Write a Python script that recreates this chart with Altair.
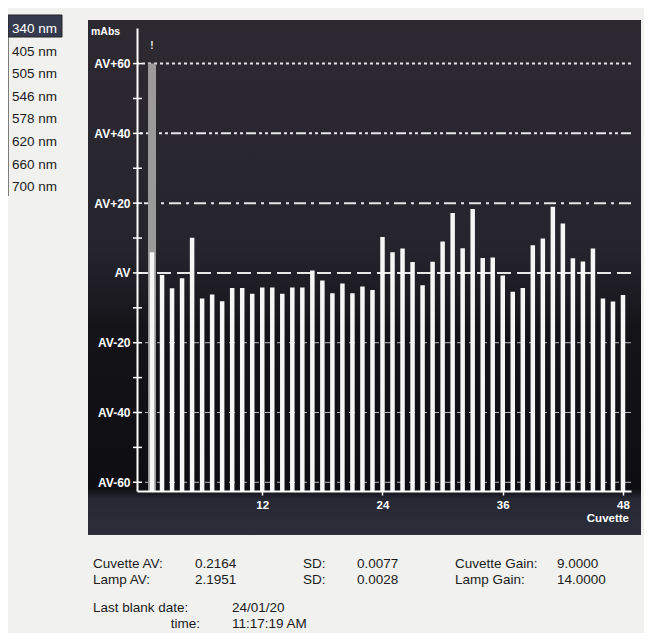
import altair as alt
import pandas as pd

# ---------------- data ----------------
wavelengths = ["340 nm", "405 nm", "505 nm", "546 nm", "578 nm", "620 nm", "660 nm", "700 nm"]
selected_wavelength = "340 nm"

cuvettes = list(range(1, 49))
values = [5.9, -0.6, -4.4, -1.5, 10.1, -7.3, -6.2, -8.1, -4.3, -4.3, -6.0, -4.2,
          -4.2, -6.0, -4.2, -4.2, 0.7, -2.2, -5.8, -3.0, -5.8, -3.9, -4.9, 10.3,
          5.9, 7.0, 3.1, -3.5, 3.2, 9.0, 17.2, 7.1, 18.3, 4.3, 4.4, -0.7,
          -5.4, -4.3, 7.9, 9.9, 19.0, 14.2, 4.2, 3.3, 7.0, -7.3, -8.2, -6.3]
selected_cuvette = [1]
selected_top = [60]
marker_level = [65]

y_major = [-60, -40, -20, 0, 20, 40, 60]
y_minor = [-50, -30, -10, 10, 30, 50]
x_ticks = [12, 24, 36, 48]

y_unit = "mAbs"
x_title = "Cuvette"

stat_labels_left = ["Cuvette AV:", "Lamp AV:"]
stat_values_left = ["0.2164", "2.1951"]
sd_labels = ["SD:", "SD:"]
sd_values = ["0.0077", "0.0028"]
gain_labels = ["Cuvette Gain:", "Lamp Gain:"]
gain_values = ["9.0000", "14.0000"]
blank_labels = ["Last blank date:", "time:"]
blank_values = ["24/01/20", "11:17:19 AM"]

# ---------------- layout ----------------
W, H = 494, 463
Y_MIN, Y_MAX = -62.5, 70.2
X_MIN, X_MAX = 0, 48.3
FONT = "Liberation Sans"

xscale = alt.Scale(domain=[X_MIN, X_MAX], nice=False, zero=False)
yscale = alt.Scale(domain=[Y_MIN, Y_MAX], nice=False, zero=False)

dummy = pd.DataFrame({"d": [0]})
layers = []

# dark instrument panel
panel_fill = alt.Gradient(
    gradient="linear", x1=0, x2=0, y1=0, y2=1,
    stops=[
        alt.GradientStop(color="#2d2931", offset=0),
        alt.GradientStop(color="#25242d", offset=0.45),
        alt.GradientStop(color="#141418", offset=0.6),
        alt.GradientStop(color="#0e0e12", offset=0.91),
        alt.GradientStop(color="#262833", offset=0.93),
        alt.GradientStop(color="#2b2e3a", offset=1),
    ],
)
layers.append(alt.Chart(dummy).mark_rect(fill=panel_fill).encode(
    x=alt.value(-49), x2=alt.value(504), y=alt.value(-8), y2=alt.value(507)))

# bars (carry the axes)
df = pd.DataFrame({"cuvette": cuvettes, "value": values, "base": [Y_MIN] * len(cuvettes)})
label_expr = ("datum.value == 0 ? 'AV' : (datum.value > 0 ? 'AV+' + datum.value : 'AV' + datum.value)")
xaxis = alt.Axis(values=x_ticks, ticks=True, tickSize=4, tickWidth=1.5, tickColor="white",
                 labelColor="white", labelFont=FONT, labelFontSize=11.5, labelFontWeight="bold",
                 labelPadding=4, domainColor="white", domainWidth=2, grid=False,
                 labelFlush=False, zindex=2, title=None)
yaxis = alt.Axis(values=y_major, labelExpr=label_expr, ticks=False, labelPadding=7,
                 labelColor="white", labelFont=FONT, labelFontSize=12, labelFontWeight="bold",
                 domainColor="white", domainWidth=2, grid=False, zindex=2, title=None)

# grid / reference lines
def grid(levels, **kw):
    return alt.Chart(pd.DataFrame({"level": levels})).mark_rule(**kw).encode(
        y=alt.Y("level:Q", scale=yscale, axis=yaxis))

layers.append(grid(y_major[:3], color="#b9b9b9", strokeWidth=1, strokeDash=[6, 6]))
layers.append(grid([y_major[3]], color="#e6e6e6", strokeWidth=2, strokeDash=[14, 6]))
layers.append(grid([y_major[4]], color="#e6e6e6", strokeWidth=2, strokeDash=[12, 5, 3, 5]))
layers.append(grid([y_major[5]], color="#e6e6e6", strokeWidth=2, strokeDash=[10, 3, 3, 3, 3, 3]))
layers.append(grid([y_major[6]], color="#e6e6e6", strokeWidth=2, strokeDash=[3, 3]))

# selected cuvette highlight
sel_df = pd.DataFrame({"cuvette": selected_cuvette, "top": selected_top, "base": [Y_MIN],
                       "mark": marker_level})
layers.append(alt.Chart(sel_df).mark_bar(size=8, color="#9a9a9a").encode(
    x=alt.X("cuvette:Q", scale=xscale, axis=xaxis),
    y=alt.Y("top:Q", scale=yscale, axis=yaxis), y2="base:Q"))
layers.append(alt.Chart(sel_df).mark_text(
    text="!", font=FONT, fontSize=10, fontWeight="bold", color="#e8e8e8", baseline="middle"
).encode(x=alt.X("cuvette:Q", scale=xscale, axis=xaxis), y=alt.Y("mark:Q", scale=yscale, axis=yaxis)))

layers.append(alt.Chart(df).mark_bar(size=4.5, color="#f6f6f6").encode(
    x=alt.X("cuvette:Q", scale=xscale, axis=xaxis),
    y=alt.Y("value:Q", scale=yscale, axis=yaxis),
    y2="base:Q",
))

# y-axis tick marks crossing the axis
layers.append(alt.Chart(pd.DataFrame({"t": y_major + y_minor})).mark_rule(color="white", strokeWidth=1.5).encode(
    y=alt.Y("t:Q", scale=yscale, axis=yaxis), x=alt.value(-4), x2=alt.value(5)))

# wavelength list box
layers.append(alt.Chart(dummy).mark_rule(color="#555", strokeWidth=1.5).encode(
    x=alt.value(-129), y=alt.value(-13), y2=alt.value(168)))
layers.append(alt.Chart(dummy).mark_rect(fill="#363a4e", stroke="#222", strokeWidth=1).encode(
    x=alt.value(-129), x2=alt.value(-75), y=alt.value(-13), y2=alt.value(9)))
for i, w in enumerate(wavelengths):
    col = "#ffffff" if w == selected_wavelength else "#1b1b1b"
    layers.append(alt.Chart(dummy).mark_text(
        align="left", baseline="alphabetic", font=FONT, fontSize=13.5, color=col
    ).encode(text=alt.value(w), x=alt.value(-125), y=alt.value(5 + i * 22.6)))

# axis captions
layers.append(alt.Chart(dummy).mark_text(align="left", baseline="alphabetic", font=FONT, fontSize=10.5,
                                         fontWeight="bold", color="white").encode(
    text=alt.value(y_unit), x=alt.value(-46), y=alt.value(7)))
layers.append(alt.Chart(dummy).mark_text(align="right", baseline="middle", font=FONT, fontSize=11.5,
                                         fontWeight="bold", color="white").encode(
    text=alt.value(x_title), x=alt.value(492), y=alt.value(491)))

# information text under the panel
def info(t, x, y, align="left"):
    return alt.Chart(dummy).mark_text(align=align, baseline="alphabetic", font=FONT, fontSize=13.5,
                                      color="#1b1b1b").encode(
        text=alt.value(t), x=alt.value(x), y=alt.value(y))

row_y = [540, 556]
for i in range(2):
    layers.append(info(stat_labels_left[i], -44, row_y[i]))
    layers.append(info(stat_values_left[i], 58, row_y[i]))
    layers.append(info(sd_labels[i], 166, row_y[i]))
    layers.append(info(sd_values[i], 220, row_y[i]))
    layers.append(info(gain_labels[i], 318, row_y[i]))
    layers.append(info(gain_values[i], 420, row_y[i]))
layers.append(info(blank_labels[0], -44, 584))
layers.append(info(blank_labels[1], 63, 600, align="right"))
layers.append(info(blank_values[0], 95, 584))
layers.append(info(blank_values[1], 95, 600))

chart = alt.layer(*layers).properties(
    width=W, height=H,
    padding={"left": 129, "top": 20, "right": 13, "bottom": 142},
    autosize="none",
).configure(background="#f1f1ef").configure_view(stroke=None)

chart.save("out.html", embed_options={"renderer": "svg", "actions": False})
